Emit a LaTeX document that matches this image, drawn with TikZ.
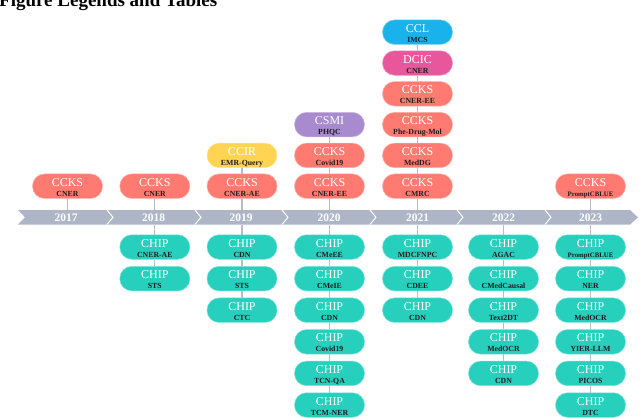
\documentclass[tikz,border=0pt]{standalone}
\usepackage{fontspec}
\setmainfont{Liberation Serif}
\definecolor{ccksc}{HTML}{FF7A70}
\definecolor{chipc}{HTML}{27CFBD}
\definecolor{ccirc}{HTML}{FFD452}
\definecolor{csmic}{HTML}{A88BCF}
\definecolor{cclc}{HTML}{1AB2EA}
\definecolor{dcicc}{HTML}{E8569C}
\definecolor{bandc}{HTML}{ADB5C7}
\definecolor{connc}{HTML}{B5BCCB}
\definecolor{subc}{HTML}{1E1E1E}
\newcommand\bxt[3][7.8]{\makebox[0pt]{\fontsize{12}{12}\selectfont #2}\makebox[0pt]{\raisebox{-10pt}{\fontsize{#1}{8}\selectfont\bfseries\color{subc}#3}}}
\begin{document}
\begin{tikzpicture}[x=1pt,y=-1pt,
  evbox/.style={rounded corners=12pt, minimum width=70pt, minimum height=24.5pt, inner sep=0pt, text height=4pt, text depth=4pt, text=white, line width=0.5pt},
  ccks/.style={evbox, fill=ccksc, draw=ccksc!60!white},
  chip/.style={evbox, fill=chipc, draw=chipc!60!white},
  ccir/.style={evbox, fill=ccirc, draw=ccirc!60!white},
  csmi/.style={evbox, fill=csmic, draw=csmic!60!white},
  cclb/.style={evbox, fill=cclc, draw=cclc!60!white},
  dcic/.style={evbox, fill=dcicc, draw=dcicc!60!white},
  yr/.style={minimum height=14.5pt, minimum width=30pt, inner sep=0pt, text height=8pt, text depth=0pt, text=white, font=\fontsize{11.5}{12}\selectfont\bfseries},
  conn/.style={draw=connc, line width=1.2pt},
  sep/.style={draw=white, line width=1pt},
]
\useasboundingbox (0,0) rectangle (640,418);
% title
\node[anchor=base west, inner sep=0pt, font=\fontsize{19}{20}\selectfont\bfseries] (ttl) at (-1,6) {Figure Legends and Tables};
% timeline band
\fill[bandc] (18,210) -- (630,210) -- (638,217.3) -- (630,224.5) -- (18,224.5) -- (25,217.3) -- cycle;
\foreach \s in {107,195,282,370,457,545}{
  \draw[sep] (\s,210) -- (\s+6,217.3) -- (\s,224.5);
}
% years
\node[yr] (y17) at (66,217.3) {2017};
\node[yr] (y18) at (153.5,217.3) {2018};
\node[yr] (y19) at (241,217.3) {2019};
\node[yr] (y20) at (329,217.3) {2020};
\node[yr] (y21) at (417.5,217.3) {2021};
\node[yr] (y22) at (503.5,217.3) {2022};
\node[yr] (y23) at (590.5,217.3) {2023};
% 2017
\node[ccks] (k17a) at (67.5,186.2) {\bxt{CCKS}{CNER}};
% 2018
\node[ccks] (k18a) at (154.8,186.2) {\bxt{CCKS}{CNER}};
\node[chip] (h18a) at (154.8,247) {\bxt{CHIP}{CNER-AE}};
\node[chip] (h18b) at (154.8,278.6) {\bxt{CHIP}{STS}};
% 2019
\node[ccks] (k19a) at (242,186.2) {\bxt{CCKS}{CNER-AE}};
\node[ccir] (r19b) at (242,155.4) {\bxt{CCIR}{EMR-Query}};
\node[chip] (h19a) at (242,247) {\bxt{CHIP}{CDN}};
\node[chip] (h19b) at (242,278.6) {\bxt{CHIP}{STS}};
\node[chip] (h19c) at (242,310.2) {\bxt{CHIP}{CTC}};
% 2020
\node[ccks] (k20a) at (329.5,186.2) {\bxt{CCKS}{CNER-EE}};
\node[ccks] (k20b) at (329.5,155.4) {\bxt{CCKS}{Covid19}};
\node[csmi] (s20c) at (329.5,124.6) {\bxt{CSMI}{PHQC}};
\node[chip] (h20a) at (329.5,247) {\bxt{CHIP}{CMeEE}};
\node[chip] (h20b) at (329.5,278.6) {\bxt{CHIP}{CMeIE}};
\node[chip] (h20c) at (329.5,310.2) {\bxt{CHIP}{CDN}};
\node[chip] (h20d) at (329.5,341.8) {\bxt{CHIP}{Covid19}};
\node[chip] (h20e) at (329.5,373.4) {\bxt{CHIP}{TCN-QA}};
\node[chip] (h20f) at (329.5,405) {\bxt{CHIP}{TCM-NER}};
% 2021
\node[ccks] (k21a) at (417.5,186.2) {\bxt{CCKS}{CMRC}};
\node[ccks] (k21b) at (417.5,155.4) {\bxt{CCKS}{MedDG}};
\node[ccks] (k21c) at (417.5,124.6) {\bxt{CCKS}{Phe-Drug-Mol}};
\node[ccks] (k21d) at (417.5,93.8) {\bxt{CCKS}{CNER-EE}};
\node[dcic] (d21e) at (417.5,63) {\bxt{DCIC}{CNER}};
\node[cclb] (l21f) at (417.5,32.2) {\bxt{CCL}{IMCS}};
\node[chip] (h21a) at (417.5,247) {\bxt{CHIP}{MDCFNPC}};
\node[chip] (h21b) at (417.5,278.6) {\bxt{CHIP}{CDEE}};
\node[chip] (h21c) at (417.5,310.2) {\bxt{CHIP}{CDN}};
% 2022
\node[chip] (h22a) at (503.5,247) {\bxt{CHIP}{AGAC}};
\node[chip] (h22b) at (503.5,278.6) {\bxt{CHIP}{CMedCausal}};
\node[chip] (h22c) at (503.5,310.2) {\bxt{CHIP}{Text2DT}};
\node[chip] (h22d) at (503.5,341.8) {\bxt{CHIP}{MedOCR}};
\node[chip] (h22e) at (503.5,373.4) {\bxt{CHIP}{CDN}};
% 2023
\node[ccks] (k23a) at (590.5,186.2) {\bxt[6.8]{CCKS}{PromptCBLUE}};
\node[chip] (h23a) at (590.5,247) {\bxt[6.8]{CHIP}{PromptCBLUE}};
\node[chip] (h23b) at (590.5,278.6) {\bxt{CHIP}{NER}};
\node[chip] (h23c) at (590.5,310.2) {\bxt{CHIP}{MedOCR}};
\node[chip] (h23d) at (590.5,341.8) {\bxt{CHIP}{YIER-LLM}};
\node[chip] (h23e) at (590.5,373.4) {\bxt{CHIP}{PICOS}};
\node[chip] (h23f) at (590.5,405) {\bxt{CHIP}{DTC}};
% connectors
\draw[conn] (k17a) -- (k17a |- y17.north);
\draw[conn] (k18a) -- (k18a |- y18.north);
\draw[conn] (h18a |- y18.south) -- (h18a) (h18a) -- (h18b);
\draw[conn] (k19a |- y19.north) -- (k19a) (k19a) -- (r19b);
\draw[conn] (h19a |- y19.south) -- (h19a) (h19a) -- (h19b) (h19b) -- (h19c);
\draw[conn] (k20a |- y20.north) -- (k20a) (k20a) -- (k20b) (k20b) -- (s20c);
\draw[conn] (h20a |- y20.south) -- (h20a) (h20a) -- (h20b) (h20b) -- (h20c) (h20c) -- (h20d) (h20d) -- (h20e) (h20e) -- (h20f);
\draw[conn] (y21.north) -- (k21a) (k21a) -- (k21b) (k21b) -- (k21c) (k21c) -- (k21d) (k21d) -- (d21e) (d21e) -- (l21f);
\draw[conn] (y21.south) -- (h21a) (h21a) -- (h21b) (h21b) -- (h21c);
\draw[conn] (y22.south) -- (h22a) (h22a) -- (h22b) (h22b) -- (h22c) (h22c) -- (h22d) (h22d) -- (h22e);
\draw[conn] (y23.north) -- (k23a);
\draw[conn] (y23.south) -- (h23a) (h23a) -- (h23b) (h23b) -- (h23c) (h23c) -- (h23d) (h23d) -- (h23e) (h23e) -- (h23f);
\end{tikzpicture}
\end{document}
